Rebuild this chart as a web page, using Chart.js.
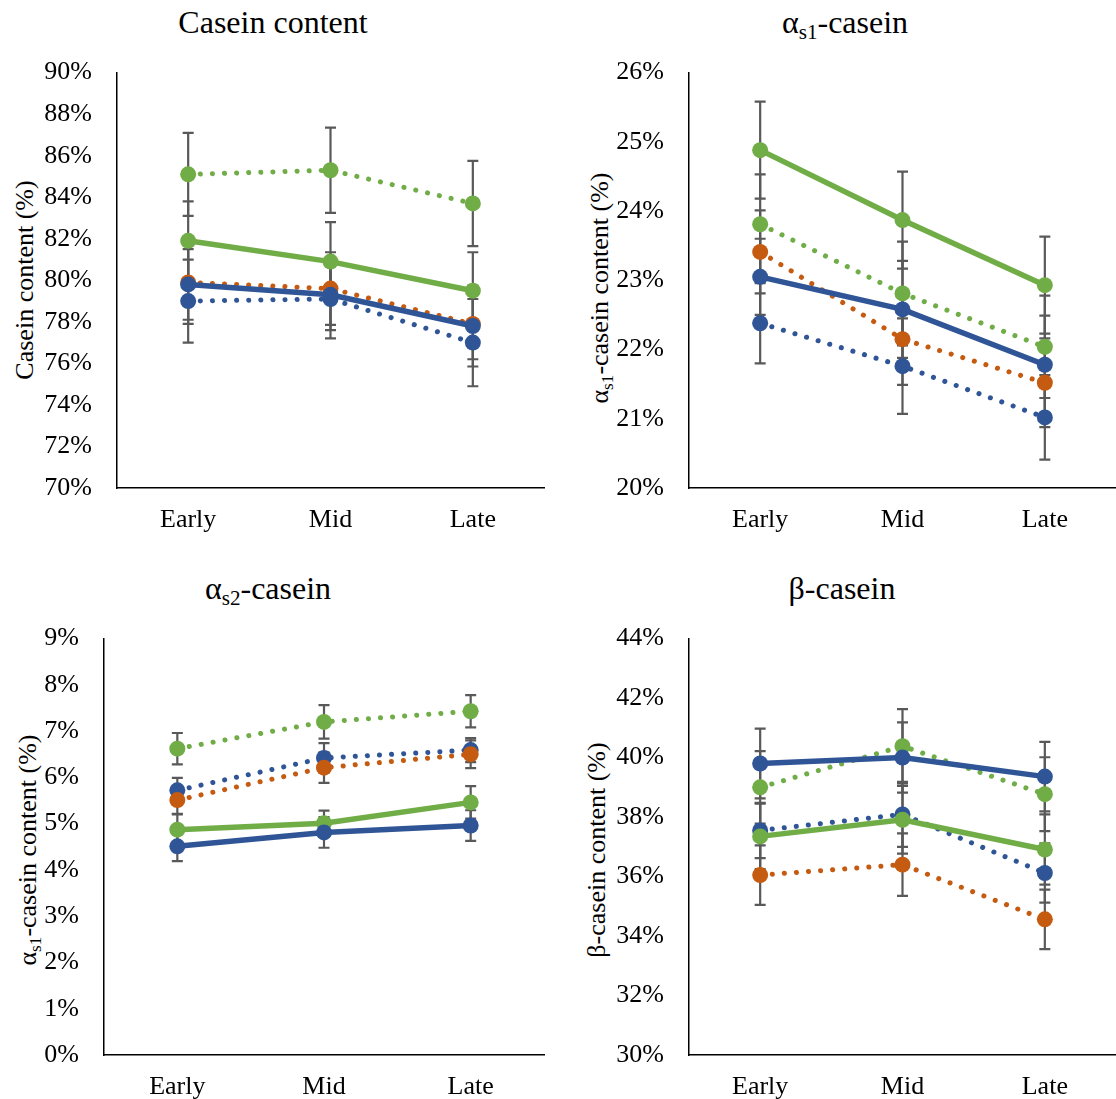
<!DOCTYPE html>
<html>
<head>
<meta charset="utf-8">
<script src="https://cdn.jsdelivr.net/npm/chart.js@4.4.1/dist/chart.umd.min.js"></script>
<style>
  body { margin: 0; background: #fff; }
  #page { position: relative; width: 1116px; height: 1099px; overflow: hidden; font-family: "Liberation Serif", "Times New Roman", serif; color: #000; }
  .box { position: absolute; }
  .box canvas { display: block; }
  .title { position: absolute; font-size: 32px; white-space: nowrap; transform: translateX(-50%); line-height: 1; }
  .ytitle { position: absolute; font-size: 26px; white-space: nowrap; transform: translate(-50%, -50%) rotate(-90deg); line-height: 1; }
  .sub { font-size: 0.66em; position: relative; top: 0.3em; }
</style>
</head>
<body>
<div id="page">
  <div class="title" style="left:273px; top:6px;">Casein content</div>
  <div class="title" style="left:845px; top:6px;">α<span class="sub">s1</span>-casein</div>
  <div class="title" style="left:268px; top:572px;">α<span class="sub">s2</span>-casein</div>
  <div class="title" style="left:842px; top:572px;">β-casein</div>

  <div class="ytitle" style="left:25px; top:280px;">Casein content (%)</div>
  <div class="ytitle" style="left:600px; top:288px;">α<span class="sub">s1</span>-casein content (%)</div>
  <div class="ytitle" style="left:28px; top:850px;">α<span class="sub">s1</span>-casein content (%)</div>
  <div class="ytitle" style="left:597px; top:850px;">β-casein content (%)</div>

  <div class="box" style="left:0; top:40px;"><canvas id="c1" width="560" height="520"></canvas></div>
  <div class="box" style="left:556px; top:40px;"><canvas id="c2" width="568" height="520"></canvas></div>
  <div class="box" style="left:0; top:606px;"><canvas id="c3" width="560" height="493"></canvas></div>
  <div class="box" style="left:556px; top:606px;"><canvas id="c4" width="568" height="493"></canvas></div>
</div>

<script>
// ===== data =====
const stages = ['Early', 'Mid', 'Late'];

// Casein content (%)
const caseinBlueSolid = [79.8, 79.3, 77.8];
const caseinBlueSolidErr = [1.7, 1.7, 1.95];
const caseinGreenSolid = [81.9, 80.9, 79.5];
const caseinGreenSolidErr = [1.9, 1.9, 1.85];
const caseinGreenDotted = [85.1, 85.3, 83.7];
const caseinGreenDottedErr = [2.0, 2.05, 2.05];
const caseinOrangeDotted = [79.9, 79.6, 77.9];
const caseinOrangeDottedErr = [2.0, 1.75, 1.7];
const caseinBlueDotted = [79.0, 79.1, 77.0];
const caseinBlueDottedErr = [2.0, 1.9, 2.1];

// alpha-s1 casein (%)
const as1BlueSolid = [23.05, 22.58, 21.78];
const as1BlueSolidErr = [0.55, 0.7, 0.71];
const as1GreenSolid = [24.88, 23.87, 22.93];
const as1GreenSolidErr = [0.7, 0.7, 0.7];
const as1GreenDotted = [23.81, 22.81, 22.04];
const as1GreenDottedErr = [0.72, 0.75, 0.74];
const as1OrangeDotted = [23.41, 22.15, 21.52];
const as1OrangeDottedErr = [0.6, 0.66, 0.64];
const as1BlueDotted = [22.38, 21.76, 21.02];
const as1BlueDottedErr = [0.58, 0.69, 0.61];

// alpha-s2 casein (%)
const as2BlueSolid = [4.51, 4.81, 4.96];
const as2BlueSolidErr = [0.32, 0.33, 0.33];
const as2GreenSolid = [4.87, 5.01, 5.46];
const as2GreenSolidErr = [0.33, 0.27, 0.35];
const as2GreenDotted = [6.62, 7.20, 7.43];
const as2GreenDottedErr = [0.34, 0.36, 0.35];
const as2OrangeDotted = [5.51, 6.21, 6.50];
const as2OrangeDottedErr = [0.3, 0.33, 0.3];
const as2BlueDotted = [5.72, 6.42, 6.59];
const as2BlueDottedErr = [0.27, 0.32, 0.26];

// beta casein (%)
const betaBlueSolid = [39.8, 40.0, 39.36];
const betaBlueSolidErr = [1.17, 1.18, 1.17];
const betaGreenSolid = [37.35, 37.91, 36.91];
const betaGreenSolidErr = [1.1, 1.14, 1.18];
const betaGreenDotted = [39.0, 40.38, 38.77];
const betaGreenDottedErr = [1.22, 1.25, 1.24];
const betaOrangeDotted = [36.05, 36.40, 34.56];
const betaOrangeDottedErr = [1.0, 1.05, 1.0];
const betaBlueDotted = [37.55, 38.09, 36.12];
const betaBlueDottedErr = [0.93, 1.09, 1.0];

const BLUE = '#2F5597';
const GREEN = '#70AD47';
const ORANGE = '#C55A11';
const FONT = '"Liberation Serif", "Times New Roman", serif';

// error bars drawn under the lines
const errorBarPlugin = {
    id: 'errorBars',
    beforeDatasetsDraw(chart) {
        const ctx = chart.ctx;
        const yScale = chart.scales.y;
        ctx.save();
        ctx.strokeStyle = '#595959';
        ctx.lineWidth = 2.2;
        chart.data.datasets.forEach((ds, di) => {
            const meta = chart.getDatasetMeta(di);
            ds.errorBars.forEach((e, i) => {
                const x = meta.data[i].x;
                const yHi = yScale.getPixelForValue(ds.data[i] + e);
                const yLo = yScale.getPixelForValue(ds.data[i] - e);
                ctx.beginPath();
                ctx.moveTo(x, yHi); ctx.lineTo(x, yLo);
                ctx.moveTo(x - 5.5, yHi); ctx.lineTo(x + 5.5, yHi);
                ctx.moveTo(x - 5.5, yLo); ctx.lineTo(x + 5.5, yLo);
                ctx.stroke();
            });
        });
        ctx.restore();
    }
};

function series(data, err, color, dotted) {
    return {
        data: data,
        errorBars: err,
        borderColor: color,
        backgroundColor: color,
        pointBackgroundColor: color,
        pointBorderColor: color,
        pointRadius: 8,
        pointBorderWidth: 0,
        borderWidth: dotted ? 5 : 5.5,
        borderDash: dotted ? [0.1, 12] : [],
        borderCapStyle: dotted ? 'round' : 'butt',
        tension: 0,
        clip: false
    };
}

function makePanel(id, sets, min, max, step, pad, yWidth, xHeight) {
    const ctx = document.getElementById(id).getContext('2d');
    return new Chart(ctx, {
        type: 'line',
        data: { labels: stages, datasets: sets },
        plugins: [errorBarPlugin],
        options: {
            responsive: false,
            animation: false,
            layout: { padding: pad },
            plugins: { legend: { display: false }, tooltip: { enabled: false }, title: { display: false } },
            scales: {
                x: {
                    offset: true,
                    grid: { display: false },
                    border: { display: true, color: '#000', width: 1.5 },
                    ticks: { color: '#000', padding: 9, font: { family: FONT, size: 26 } },
                    afterFit(axis) { axis.height = xHeight; }
                },
                y: {
                    min: min,
                    max: max,
                    grid: { display: false },
                    border: { display: true, color: '#000', width: 1.5 },
                    ticks: {
                        stepSize: step,
                        color: '#000',
                        padding: 17,
                        font: { family: FONT, size: 26 },
                        callback: (v) => v + '%'
                    },
                    afterFit(axis) { axis.width = yWidth; }
                }
            }
        }
    });
}

// top-left: casein content
makePanel('c1', [
    series(caseinBlueSolid, caseinBlueSolidErr, BLUE, false),
    series(caseinGreenSolid, caseinGreenSolidErr, GREEN, false),
    series(caseinGreenDotted, caseinGreenDottedErr, GREEN, true),
    series(caseinOrangeDotted, caseinOrangeDottedErr, ORANGE, true),
    series(caseinBlueDotted, caseinBlueDottedErr, BLUE, true)
], 70, 90, 2, { top: 26, right: 16, left: 0, bottom: 0 }, 117, 72);

// top-right: alpha-s1
makePanel('c2', [
    series(as1BlueSolid, as1BlueSolidErr, BLUE, false),
    series(as1GreenSolid, as1GreenSolidErr, GREEN, false),
    series(as1GreenDotted, as1GreenDottedErr, GREEN, true),
    series(as1OrangeDotted, as1OrangeDottedErr, ORANGE, true),
    series(as1BlueDotted, as1BlueDottedErr, BLUE, true)
], 20, 26, 1, { top: 26, right: 0, left: 0, bottom: 0 }, 133, 72);

// bottom-left: alpha-s2
makePanel('c3', [
    series(as2BlueSolid, as2BlueSolidErr, BLUE, false),
    series(as2GreenSolid, as2GreenSolidErr, GREEN, false),
    series(as2GreenDotted, as2GreenDottedErr, GREEN, true),
    series(as2OrangeDotted, as2OrangeDottedErr, ORANGE, true),
    series(as2BlueDotted, as2BlueDottedErr, BLUE, true)
], 0, 9, 1, { top: 26, right: 16, left: 0, bottom: 0 }, 104, 44);

// bottom-right: beta
makePanel('c4', [
    series(betaBlueSolid, betaBlueSolidErr, BLUE, false),
    series(betaGreenSolid, betaGreenSolidErr, GREEN, false),
    series(betaGreenDotted, betaGreenDottedErr, GREEN, true),
    series(betaOrangeDotted, betaOrangeDottedErr, ORANGE, true),
    series(betaBlueDotted, betaBlueDottedErr, BLUE, true)
], 30, 44, 2, { top: 26, right: 0, left: 0, bottom: 0 }, 133, 44);
</script>
</body>
</html>
